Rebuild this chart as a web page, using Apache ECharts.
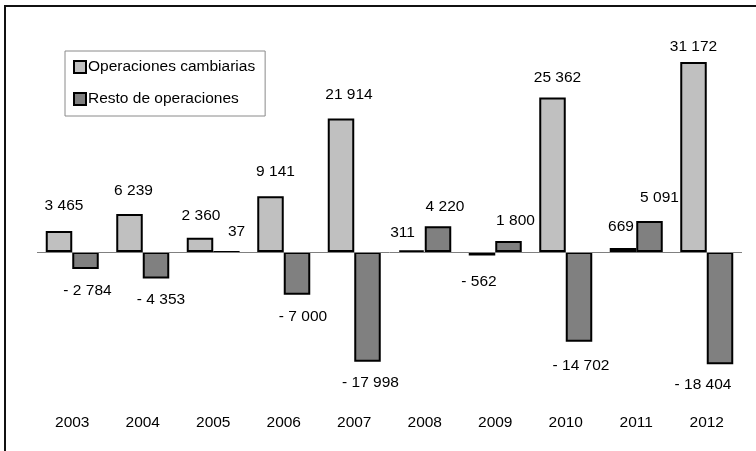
<!DOCTYPE html>
<html>
<head>
<meta charset="utf-8">
<script src="https://cdn.jsdelivr.net/npm/echarts@6/dist/echarts.min.js"></script>
<style>
html,body{margin:0;padding:0;background:#fff;}
#chart{width:756px;height:451px;}
</style>
</head>
<body>
<div id="chart"></div>
<script>
var years = ['2003','2004','2005','2006','2007','2008','2009','2010','2011','2012'];
var cambiarias = [3465, 6239, 2360, 9141, 21914, 311, -562, 25362, 669, 31172];
var resto = [-2784, -4353, 37, -7000, -17998, 4220, 1800, -14702, 5091, -18404];
var seriesNames = ['Operaciones cambiarias', 'Resto de operaciones'];
// label offsets [dx, dy] relative to default top/bottom positions
var offsetsCamb = [[5,-17],[4,-15],[1,-14],[5,-17],[8,-16],[-9,-9],[-3,18],[5,-12],[-2,-13],[0,-7]];
var offsetsResto = [[2,14],[5,13],[10,-11],[6,14],[3,13],[7,-12],[7,-12],[2,16],[10,-15],[-17,12]];

function fmt(v){
  var s = Math.abs(v).toString().replace(/\B(?=(\d{3})+(?!\d))/g, ' ');
  return (v < 0 ? '- ' : '') + s;
}
function buildData(vals, offs){
  return vals.map(function(v, i){
    return {
      value: v,
      label: { position: v < 0 ? 'bottom' : 'top', offset: offs[i] }
    };
  });
}
var font = '"Liberation Sans", Arial, sans-serif';
var fs = 15.5;
var chart = echarts.init(document.getElementById('chart'), null, {renderer:'canvas'});
chart.setOption({
  animation: false,
  textStyle: { fontFamily: font },
  graphic: [{
    type: 'rect', silent: true,
    shape: { x: 5, y: 6, width: 800, height: 500 },
    style: { fill: 'none', stroke: '#111', lineWidth: 2 }
  }],
  legend: {
    orient: 'vertical',
    left: 65, top: 51,
    padding: [8, 10, 9, 8],
    itemGap: 16,
    itemWidth: 12, itemHeight: 12,
    borderColor: '#8a8a8a', borderWidth: 1,
    icon: 'rect',
    itemStyle: { borderColor: '#000', borderWidth: 2 },
    textStyle: { fontSize: fs, color: '#000', fontFamily: font, lineHeight: 16, padding: [0,0,0,-3] },
    data: seriesNames
  },
  grid: { left: 37, right: 14, top: 57, height: 317, containLabel: false },
  xAxis: {
    type: 'category',
    data: years,
    axisLine: { show: false, onZero: false },
    axisTick: { show: false },
    axisLabel: { margin: 41, fontSize: fs, color: '#000', fontFamily: font, lineHeight: 16 }
  },
  yAxis: {
    type: 'value',
    min: -20000, max: 32000,
    show: false,
    splitLine: { show: false }
  },
  series: [{
    name: seriesNames[0],
    type: 'bar',
    barWidth: 26.5,
    barGap: 0,
    itemStyle: { color: '#c0c0c0', borderColor: '#000', borderWidth: 2 },
    label: { show: true, distance: 0, fontSize: fs, color: '#000', fontFamily: font, lineHeight: 16, formatter: function(p){ return fmt(p.value); } },
    data: buildData(cambiarias, offsetsCamb),
    markLine: {
      silent: true, symbol: 'none', label: { show: false },
      lineStyle: { color: '#808080', width: 1, type: 'solid' },
      data: [{ yAxis: 0 }]
    },
    z: 3
  }, {
    name: seriesNames[1],
    type: 'bar',
    barWidth: 26.5,
    barGap: 0,
    itemStyle: { color: '#808080', borderColor: '#000', borderWidth: 2 },
    label: { show: true, distance: 0, fontSize: fs, color: '#000', fontFamily: font, lineHeight: 16, formatter: function(p){ return fmt(p.value); } },
    data: buildData(resto, offsetsResto),
    z: 3
  }]
});
</script>
</body>
</html>
